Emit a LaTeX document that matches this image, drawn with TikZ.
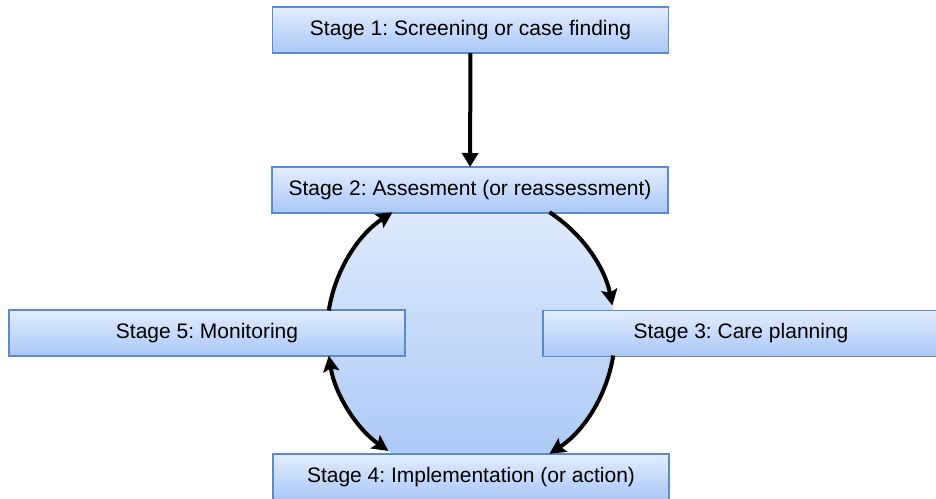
\documentclass[tikz,border=0pt]{standalone}
\usepackage{fontspec}
\setmainfont{Liberation Sans}
\usetikzlibrary{arrows.meta}
\frenchspacing
\begin{document}
\begin{tikzpicture}[x=1pt,y=-1pt]
\pgfmathsetlengthmacro\boxwidth{396};
\pgfmathsetlengthmacro\boxheight{46};
\pgfmathsetlengthmacro\ringradius{144};
\definecolor{boxtop}{HTML}{E3EDFD}
\definecolor{boxbottom}{HTML}{A9C7F6}
\definecolor{boxline}{HTML}{5B8BC8}
\tikzset{stagebox/.style = {rectangle, draw = boxline, line width = 1.5pt, top color = boxtop, bottom color = boxbottom, minimum width = \boxwidth, minimum height = \boxheight, inner sep = 0pt, outer sep = 0pt, font = \fontsize{21}{25}\selectfont}}
\tikzset{cyclehead/.tip = {Stealth[length=16pt,width=16pt,inset=3pt]}}
\tikzset{cycle/.style = {line width = 4pt, -cyclehead}}
\useasboundingbox (0,0) rectangle (936,498);
\node [circle, draw = none, top color = boxtop, bottom color = boxbottom, minimum size = 2*\ringradius, inner sep = 0pt, outer sep = 0pt] (ring) at (471,333) {};
\node [stagebox] (stage1) at (470.5,30) {Stage 1: Screening or case finding};
\node [stagebox] (stage2) at (470,190) {Stage 2: Assesment (or reassessment)};
\node [stagebox] (stage3) at (741,333.5) {Stage 3: Care planning};
\node [stagebox] (stage4) at (471,477) {Stage 4: Implementation (or action)};
\node [stagebox] (stage5) at (207,333) {Stage 5: Monitoring};
\draw [line width = 4pt, -{Triangle[length=14pt,width=16pt]}] (stage1) -- (stage2);
\draw [cycle] (ring.57) arc [start angle = 57, end angle = 11, radius = \ringradius];
\draw [cycle] (ring.-9) arc [start angle = -9, end angle = -57, radius = \ringradius];
\draw [cycle, cyclehead-cyclehead] (ring.-125) arc [start angle = -125, end angle = -171, radius = \ringradius];
\draw [cycle] (ring.171) arc [start angle = 171, end angle = 123, radius = \ringradius];
\end{tikzpicture}
\end{document}
